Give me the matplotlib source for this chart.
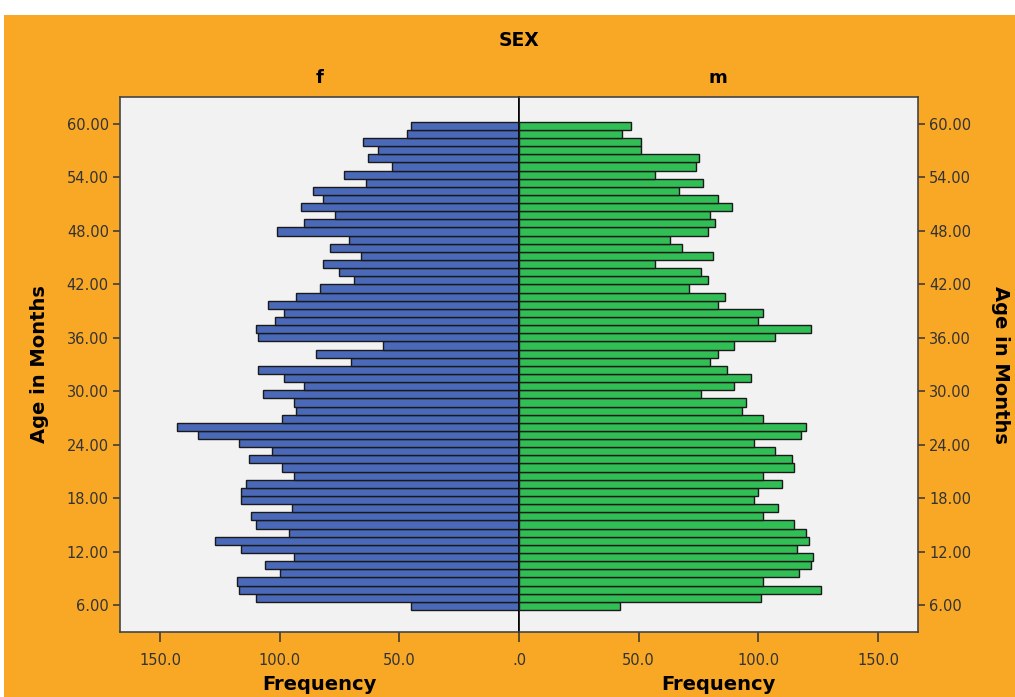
import matplotlib.pyplot as plt
import numpy as np
from matplotlib.patches import Rectangle

# counts per age bin, listed from youngest (bottom) to oldest (top)
female = [45, 110, 117, 118, 100, 106, 94, 116, 127, 96,
          110, 112, 95, 116, 116, 114, 94, 99, 113, 103,
          117, 134, 143, 99, 93, 94, 107, 90, 98, 109,
          70, 85, 57, 109, 110, 102, 98, 105, 93, 83,
          69, 75, 82, 66, 79, 71, 101, 90, 77, 91,
          82, 86, 64, 73, 53, 63, 59, 65, 47, 45]
male = [42, 101, 126, 102, 117, 122, 123, 116, 121, 120,
        115, 102, 108, 98, 100, 110, 102, 115, 114, 107,
        98, 118, 120, 102, 93, 95, 76, 90, 97, 87,
        80, 83, 90, 107, 122, 100, 102, 83, 86, 71,
        79, 76, 57, 81, 68, 63, 79, 82, 80, 89,
        83, 67, 77, 57, 74, 75, 51, 51, 43, 47]
ages = np.linspace(5.9, 59.8, len(female))  # bin centres (months)
bin_w = ages[1] - ages[0]

age_ticks = [6, 12, 18, 24, 30, 36, 42, 48, 54, 60]
age_labels = ['%.2f' % a for a in age_ticks]
freq_ticks_left = [150, 100, 50, 0]
freq_labels_left = ['150.0', '100.0', '50.0', '.0']
freq_ticks_right = [50, 100, 150]
freq_labels_right = ['50.0', '100.0', '150.0']

ORANGE = '#F9A826'
BLUE = '#4A69B9'
GREEN = '#30BE55'
PANEL = '#F2F2F2'
TXT = '#333333'

fig = plt.figure(figsize=(10.15, 6.97), dpi=100, facecolor='white')
fig.patches.append(Rectangle((4 / 1015, 0), 1, 1 - 15 / 697, transform=fig.transFigure,
                             facecolor=ORANGE, edgecolor='none', zorder=-10))

W, H = 1015, 697
left_px, mid_px, right_px, top_px, bot_px = 120, 519, 918, 97, 632
axL = fig.add_axes([left_px / W, 1 - bot_px / H, (mid_px - left_px) / W, (bot_px - top_px) / H])
axR = fig.add_axes([mid_px / W, 1 - bot_px / H, (right_px - mid_px) / W, (bot_px - top_px) / H])

xmax = 166.7
for ax, vals, col in [(axL, female, BLUE), (axR, male, GREEN)]:
    ax.set_facecolor(PANEL)
    ax.barh(ages, vals, height=bin_w, color=col, edgecolor='#1a1a1a', linewidth=1.0, zorder=3)
    ax.set_ylim(2.97, 63.03)
    ax.set_yticks(age_ticks)
    for s in ax.spines.values():
        s.set_color('#444444')
        s.set_linewidth(1.2)
    ax.tick_params(axis='both', colors='#333333', labelcolor=TXT, length=7, width=1.1)

axL.set_xlim(xmax, 0)
axR.set_xlim(0, xmax)
axL.spines['right'].set_color('black')
axR.spines['left'].set_color('black')

axL.set_xticks(freq_ticks_left)
axL.set_xticklabels(freq_labels_left, fontsize=10.5)
axR.set_xticks(freq_ticks_right)
axR.set_xticklabels(freq_labels_right, fontsize=10.5)
axL.tick_params(axis='x', pad=8)
axR.tick_params(axis='x', pad=8)

axL.set_yticklabels(age_labels, fontsize=10.5)
axR.yaxis.tick_right()
axR.set_yticklabels(age_labels, fontsize=10.5)
axL.tick_params(axis='y', length=5, pad=3)
axR.tick_params(axis='y', length=5, pad=3)

axL.set_ylabel('Age in Months', fontsize=14, fontweight='bold', labelpad=13)
axR.yaxis.set_label_position('right')
axR.set_ylabel('Age in Months', fontsize=14, fontweight='bold', rotation=270, labelpad=28)
axL.set_xlabel('Frequency', fontsize=14, fontweight='bold', labelpad=5)
axR.set_xlabel('Frequency', fontsize=14, fontweight='bold', labelpad=5)

fig.text(mid_px / W, 1 - 40 / H, 'SEX', ha='center', va='center', fontsize=13.5, fontweight='bold')
fig.text(320 / W, 1 - 78 / H, 'f', ha='center', va='center', fontsize=13, fontweight='bold')
fig.text(718 / W, 1 - 78 / H, 'm', ha='center', va='center', fontsize=13, fontweight='bold')

fig.savefig('out.png', dpi=100, facecolor=fig.get_facecolor())
